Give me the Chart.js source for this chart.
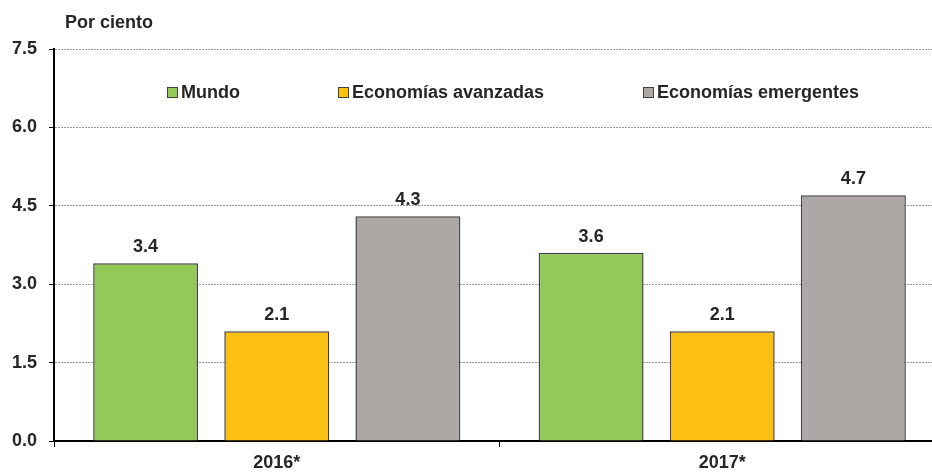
<!DOCTYPE html>
<html>
<head>
<meta charset="utf-8">
<script src="https://cdn.jsdelivr.net/npm/chart.js@4/dist/chart.umd.min.js"></script>
<style>
  html, body { margin: 0; padding: 0; background: #fff; overflow: hidden; }
  #wrap { position: relative; width: 945px; height: 472px; }
</style>
</head>
<body>
<div id="wrap"><canvas id="crecimiento" width="945" height="472"></canvas></div>
<script>
// Crecimiento económico mundial, 2016-2017
const categorias = ['2016*', '2017*'];
const series = ['Mundo', 'Economías avanzadas', 'Economías emergentes'];
const mundo = [3.4, 3.6];
const avanzadas = [2.1, 2.1];
const emergentes = [4.3, 4.7];
const ticksY = [0, 1.5, 3.0, 4.5, 6.0, 7.5];

const colores = ['#92c957', '#fcc013', '#ada8a6'];
const borde = '#404040';
const texto = '#262626';
const fuente = '"Liberation Sans", Arial, sans-serif';

// etiquetas de valor, título del eje y leyenda dentro del área
const extras = {
    id: 'extras',
    afterDatasetsDraw(chart) {
        const ctx = chart.ctx;
        ctx.save();
        ctx.fillStyle = texto;
        ctx.font = 'bold 18px ' + fuente;
        ctx.textAlign = 'center';
        ctx.textBaseline = 'bottom';
        chart.data.datasets.forEach((ds, i) => {
            chart.getDatasetMeta(i).data.forEach((bar, j) => {
                ctx.fillText(ds.data[j].toFixed(1), bar.x, bar.y - 7);
            });
        });

        ctx.textAlign = 'left';
        ctx.textBaseline = 'middle';
        ctx.fillText('Por ciento', 65, 23);

        // leyenda
        const xs = [167, 338, 643];
        chart.data.datasets.forEach((ds, i) => {
            ctx.fillStyle = ds.backgroundColor;
            ctx.fillRect(xs[i], 87, 11, 11);
            ctx.strokeStyle = borde;
            ctx.lineWidth = 1;
            ctx.strokeRect(xs[i] + 0.5, 87.5, 10, 10);
            ctx.fillStyle = texto;
            ctx.fillText(ds.label, xs[i] + 14, 93);
        });
        ctx.restore();
    }
};

function serie(i, datos) {
    return {
        label: series[i],
        data: datos,
        backgroundColor: colores[i],
        borderColor: borde,
        borderWidth: 1.5,
        borderSkipped: 'bottom',
        categoryPercentage: 0.883,
        barPercentage: 0.8
    };
}

new Chart(document.getElementById('crecimiento'), {
    type: 'bar',
    data: {
        labels: categorias,
        datasets: [serie(0, mundo), serie(1, avanzadas), serie(2, emergentes)]
    },
    options: {
        responsive: false,
        animation: false,
        layout: { padding: { top: 49, right: 0, bottom: 0, left: 0 } },
        plugins: {
            legend: { display: false },
            tooltip: { enabled: false }
        },
        scales: {
            x: {
                offset: true,
                grid: {
                    offset: true,
                    drawOnChartArea: false,
                    drawTicks: true,
                    tickLength: 6,
                    tickColor: '#000'
                },
                border: { color: '#000', width: 2 },
                ticks: {
                    color: texto,
                    font: { family: fuente, size: 18, weight: 'bold' },
                    padding: 5
                },
                afterFit(s) { s.height = 31; }
            },
            y: {
                min: ticksY[0],
                max: ticksY[ticksY.length - 1],
                afterBuildTicks(s) { s.ticks = ticksY.map(v => ({ value: v })); },
                grid: {
                    color: '#9a9a9a',
                    lineWidth: 1,
                    tickColor: '#000',
                    tickLength: 5,
                    tickBorderDash: []
                },
                border: { color: '#000', width: 2, dash: [2, 1] },
                ticks: {
                    color: texto,
                    font: { family: fuente, size: 18, weight: 'bold' },
                    padding: 12,
                    callback: v => v.toFixed(1)
                },
                afterFit(s) { s.width = 54; }
            }
        }
    },
    plugins: [extras]
});
</script>
</body>
</html>
